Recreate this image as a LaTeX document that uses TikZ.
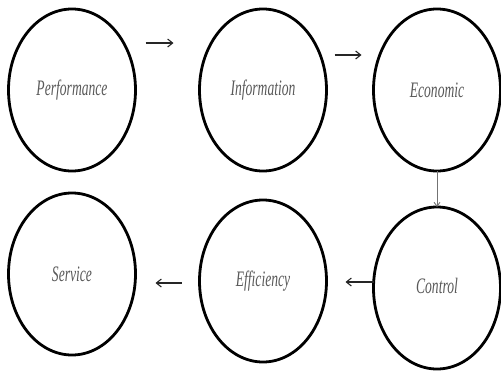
\documentclass[tikz,border=0pt]{standalone}
\usepackage{fontspec}
\setmainfont{Liberation Serif}
\usetikzlibrary{shapes.geometric,arrows.meta}
\begin{document}
\begin{tikzpicture}[x=1pt,y=-1pt,
  bubble/.style={ellipse, draw=black, line width=2.8pt, minimum width=127pt, minimum height=162pt, inner sep=0pt, outer sep=0pt},
  lbl/.style={font=\fontsize{17}{20}\selectfont\itshape, text=black!65, xscale=0.8, yscale=1.3},
  arr/.style={-{Straight Barb[length=5pt,width=8pt]}, line width=1.1pt, black!85},
  darr/.style={-{Straight Barb[length=4pt,width=6pt]}, line width=0.9pt, black!55}]
\useasboundingbox (0,0) rectangle (501,370);
\node[bubble] (perf) at (72,90) {};
\node[bubble] (info) at (263,90) {};
\node[bubble] (econ) at (437,90) {};
\node[bubble] (serv) at (72,274) {};
\node[bubble] (effi) at (263,281) {};
\node[bubble] (ctrl) at (437,288) {};
\node[lbl] at (perf.center) {Performance};
\node[lbl] at (info.center) {Information};
\node[lbl] at (econ.center) {Economic};
\node[lbl] at (serv.center) {Service};
\node[lbl] at (effi.center) {Efficiency};
\node[lbl] at ([yshift=2pt]ctrl.center) {Control};
\draw[arr, shorten <=10pt, shorten >=26pt] ([yshift=47pt]perf.east) -- ([yshift=47pt]info.west);
\draw[arr, shorten <=8pt, shorten >=12pt] ([yshift=35pt]info.east) -- ([yshift=35pt]econ.west);
\draw[darr] (econ.south) -- (ctrl.north);
\draw[arr, shorten >=19pt] ([yshift=6pt]ctrl.west) -- ([yshift=6pt]ctrl.west -| effi.east);
\draw[arr, shorten <=18pt, shorten >=20pt] ([yshift=-2pt]effi.west) -- ([yshift=-2pt]effi.west -| serv.east);
\end{tikzpicture}
\end{document}
